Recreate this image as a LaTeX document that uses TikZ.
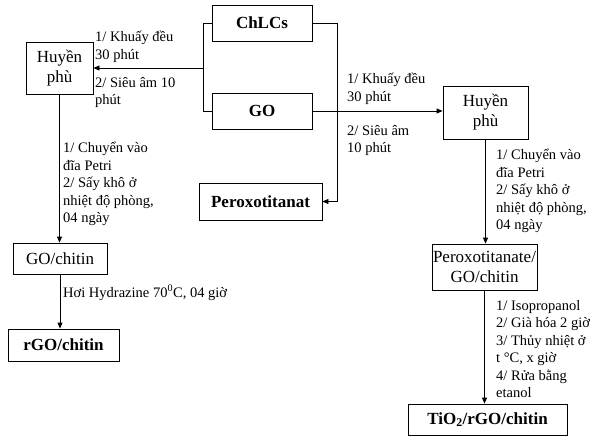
\documentclass[tikz,border=0pt]{standalone}
\usepackage{fontspec}
\setmainfont{Liberation Serif}
\usetikzlibrary{arrows.meta}
\begin{document}
\begin{tikzpicture}[x=1pt,y=-1pt,
  box/.style={draw, line width=0.8pt, inner sep=0pt, align=center, font=\fontsize{17}{20}\selectfont},
  bbox/.style={box, font=\fontsize{17}{20}\selectfont\bfseries},
  lab/.style={anchor=north west, align=left, inner sep=0pt, font=\fontsize{14.5}{17.5}\selectfont},
  conn/.style={line width=0.8pt},
  arr/.style={conn, -{Triangle[length=6pt,width=5pt]}}]
\useasboundingbox (0,0) rectangle (592,436);
% boxes
\node[bbox, minimum width=100, minimum height=36] (chl) at (262,23) {ChLCs};
\node[bbox, minimum width=100, minimum height=36] (go) at (262,111) {GO};
\node[box, minimum width=67, minimum height=52] (h1) at (59.5,68) {Huyền\\phù};
\node[box, minimum width=85, minimum height=53] (h2) at (485.5,112.5) {Huyền\\phù};
\node[bbox, minimum width=123, minimum height=37] (per) at (260.5,201.5) {Peroxotitanat};
\node[box, minimum width=94, minimum height=31] (goc) at (60,258.5) {GO/chitin};
\node[bbox, minimum width=111, minimum height=32] (rgo) at (63.5,345) {rGO/chitin};
\node[box, minimum width=105, minimum height=46] (pgc) at (484.5,267) {Peroxotitanate/\\GO/chitin};
\node[bbox, minimum width=159, minimum height=31] (tio) at (487.5,419.5) {TiO\textsubscript{2}/rGO/chitin};
% bracket coordinates
\coordinate (lx) at (203,0);
\coordinate (rx) at (337,0);
% connectors
\draw[conn] (chl.west) -- (chl.west -| lx) -- (go.west -| lx) -- (go.west);
\draw[arr] (lx |- h1.east) -- (h1.east);
\draw[arr] (chl.east) -- (chl.east -| rx) -- (per.east -| rx) -- (per.east);
\draw[arr] (go.east) -- (h2.west |- go.east);
\draw[arr] (h1.south) -- (h1.south |- goc.north);
\draw[arr] (goc.south) -- (goc.south |- rgo.north);
\draw[arr] (h2.south) -- (h2.south |- pgc.north);
\draw[arr] (pgc.south) -- (pgc.south |- tio.north);
% labels
\node[lab] (l1) at (95,31) {1/ Khuấy đều\\30 phút};
\node[lab] (l2) at (95,77) {2/ Siêu âm 10\\phút};
\node[lab] (l3) at (63,142) {1/ Chuyển vào\\đĩa Petri\\2/ Sấy khô ở\\nhiệt độ phòng,\\04 ngày};
\node[lab, anchor=base west] (hyd) at (63,297) {Hơi Hydrazine 70\textsuperscript{0}C, 04 giờ};
\node[lab] (r1) at (347,73) {1/ Khuấy đều\\30 phút};
\node[lab] (r2) at (347,125) {2/ Siêu âm\\10 phút};
\node[lab] (r3) at (496,149) {1/ Chuyển vào\\đĩa Petri\\2/ Sấy khô ở\\nhiệt độ phòng,\\04 ngày};
\node[lab] (r4) at (496,300) {1/ Isopropanol\\2/ Già hóa 2 giờ\\3/ Thủy nhiệt ở\\t °C, x giờ\\4/ Rửa bằng\\etanol};
\end{tikzpicture}
\end{document}
